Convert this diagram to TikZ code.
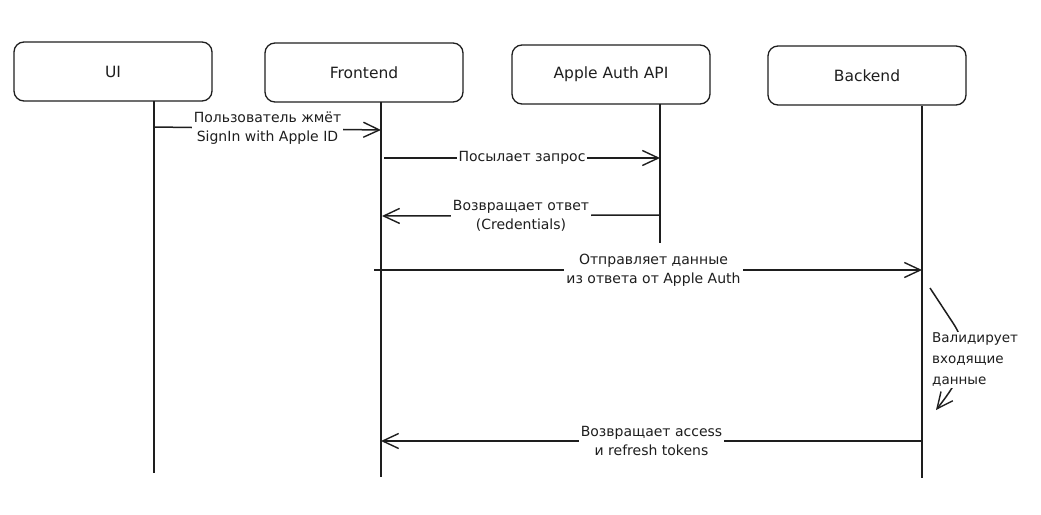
\documentclass[tikz,border=0pt]{standalone}
\usepackage{fontspec}
\setmainfont{DejaVu Sans}
\usetikzlibrary{arrows.meta}
\definecolor{ink}{HTML}{1E1E1E}
\tikzset{
  actor/.style={draw=ink, line width=1.3pt, rounded corners=10pt, minimum width=198pt, minimum height=59pt, font=\fontsize{15.5}{18}\selectfont, text=ink},
  life/.style={draw=ink, line width=1.6pt},
  msg/.style={draw=ink, line width=1.5pt, -{Straight Barb[length=16pt,width=15pt,line width=1.4pt]}},
  lbl/.style={fill=white, inner sep=2pt, align=center, text=ink, font=\fontsize{14}{19}\selectfont},
}
\begin{document}
\begin{tikzpicture}[x=1pt,y=-1pt]
\useasboundingbox (0,0) rectangle (1041,514);
% actors
\node[actor] (ui) at (113,71.5) {UI};
\node[actor] (fe) at (364,72.5) {Frontend};
\node[actor] (api) at (611,74.5) {Apple Auth API};
\node[actor] (be) at (867,75.5) {Backend};
% lifelines
\coordinate (uiT) at (154,101); \coordinate (uiB) at (154,473);
\coordinate (feT) at (381,102); \coordinate (feB) at (381,477);
\coordinate (apiT) at (660,104); \coordinate (apiB) at (660,243);
\coordinate (beT) at (922,106); \coordinate (beB) at (922,478);
\draw[life] (uiT) -- (uiB);
\draw[life] (feT) -- (feB);
\draw[life] (apiT) -- (apiB);
\draw[life] (beT) -- (beB);
% messages
\coordinate (m1s) at (154,127); \coordinate (m1e) at (381,130);
\draw[msg] (m1s) -- node[lbl] (l1) {Пользователь жмёт\\SignIn with Apple ID} (m1e);
\coordinate (m2s) at (384,158); \coordinate (m2e) at (660,158);
\draw[msg] (m2s) -- node[lbl] (l2) {Посылает запрос} (m2e);
\coordinate (m3s) at (660,215); \coordinate (m3e) at (382,216);
\draw[msg] (m3s) -- node[lbl] (l3) {Возвращает ответ\\(Credentials)} (m3e);
\coordinate (m4s) at (374,270); \coordinate (m4e) at (922,270);
\draw[msg] (m4s) -- node[lbl, pos=0.51] (l4) {Отправляет данные\\из ответа от Apple Auth} (m4e);
\coordinate (m5s) at (930,288); \coordinate (m5e) at (936,410);
\draw[msg] (m5s) -- (953,323) .. controls (975,356) and (958,382) .. (m5e);
\node[lbl, align=left, anchor=west, inner sep=1pt, font=\fontsize{13.5}{21}\selectfont] (l5) at (931,360) {Валидирует\\входящие\\данные};
\coordinate (m6s) at (922,441); \coordinate (m6e) at (381,441);
\draw[msg] (m6s) -- node[lbl] (l6) {Возвращает access\\и refresh tokens} (m6e);
\end{tikzpicture}
\end{document}
